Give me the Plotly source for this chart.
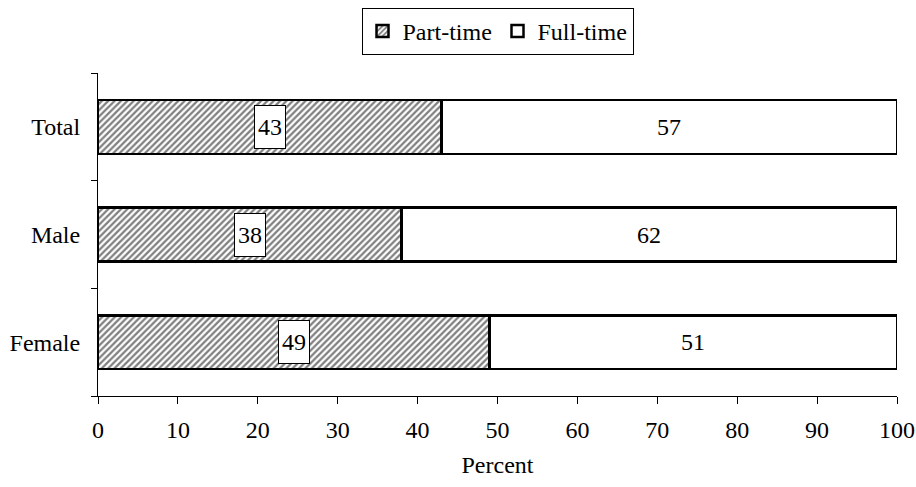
import plotly.graph_objects as go

# Employment status by sex, percent
categories = ["Female", "Male", "Total"]
part_time = [49, 38, 43]
full_time = [51, 62, 57]
x_ticks = [0, 10, 20, 30, 40, 50, 60, 70, 80, 90, 100]

FONT = "Liberation Serif"
SIZE = 24

fig = go.Figure()
fig.add_trace(go.Bar(
    y=categories, x=part_time, name="Part-time", orientation="h",
    marker=dict(
        color="white",
        line=dict(color="black", width=2.5),
        pattern=dict(shape="/", fgcolor="black", bgcolor="white", size=4.5, solidity=0.5),
    ),
    width=0.5,
))
fig.add_trace(go.Bar(
    y=categories, x=full_time, name="Full-time", orientation="h",
    marker=dict(color="white", line=dict(color="black", width=2.5)),
    width=0.5,
))

# value labels: boxed inside the hatched bars, plain inside the white bars
for cat, p, f in zip(categories, part_time, full_time):
    fig.add_annotation(
        x=p / 2, y=cat, text=str(p), showarrow=False,
        font=dict(family=FONT, size=SIZE, color="black"),
        bgcolor="white", bordercolor="black", borderwidth=1, borderpad=3,
        width=24, height=36,
    )
    fig.add_annotation(
        x=p + f / 2, y=cat, text=str(f), showarrow=False,
        font=dict(family=FONT, size=SIZE, color="black"),
    )

fig.update_layout(
    barmode="stack",
    width=916, height=487,
    margin=dict(l=98, r=19, t=73, b=91, autoexpand=False),
    paper_bgcolor="white", plot_bgcolor="white",
    font=dict(family=FONT, size=SIZE, color="black"),
    showlegend=True,
    legend=dict(
        orientation="h", x=0.5, xanchor="center", xref="paper",
        y=1 - 8 / 487, yanchor="top", yref="container",
        bordercolor="black", borderwidth=1,
        font=dict(family=FONT, size=SIZE),
        traceorder="normal", itemwidth=30, tracegroupgap=0,
        entrywidth=90, entrywidthmode="pixels",
    ),
    xaxis=dict(
        range=[0, 100], tickvals=x_ticks, ticks="outside", ticklen=7,
        tickcolor="black", showline=True, linecolor="black", linewidth=1,
        showgrid=False, zeroline=False, automargin=False,
        ticklabelstandoff=5,
        title=dict(text="Percent", font=dict(family=FONT, size=SIZE), standoff=14),
        tickfont=dict(family=FONT, size=SIZE),
    ),
    yaxis=dict(
        range=[-0.5, 2.5], ticks="outside", ticklen=6, tickcolor="black",
        tickson="boundaries", showline=True, linecolor="black", linewidth=1,
        showgrid=False, zeroline=False, automargin=False,
        ticklabelstandoff=12,
        tickfont=dict(family=FONT, size=SIZE),
    ),
)

fig.write_html("out.html")
